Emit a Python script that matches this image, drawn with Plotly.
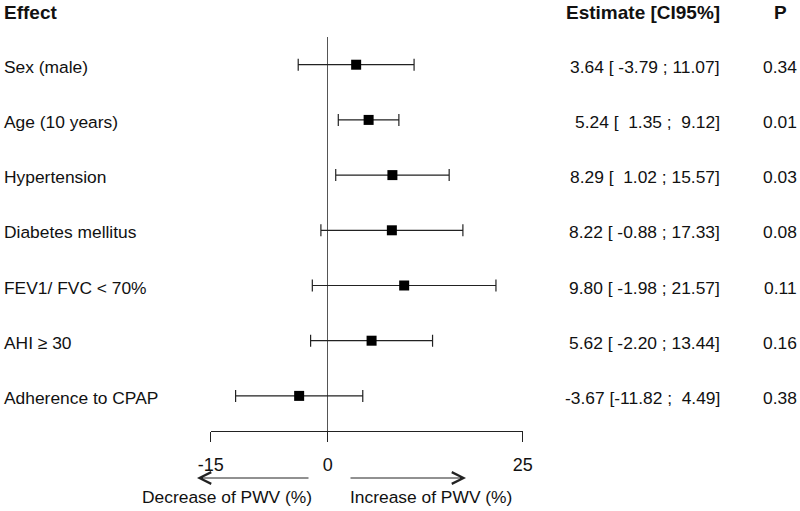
import plotly.graph_objects as go

# Forest plot data
effects = ["Sex (male)", "Age (10 years)", "Hypertension", "Diabetes mellitus",
           "FEV1/ FVC &lt; 70%", "AHI ≥ 30", "Adherence to CPAP"]
estimates = [3.64, 5.24, 8.29, 8.22, 9.80, 5.62, -3.67]
ci_low = [-3.79, 1.35, 1.02, -0.88, -1.98, -2.20, -11.82]
ci_high = [11.07, 9.12, 15.57, 17.33, 21.57, 13.44, 4.49]
p_values = ["0.34", "0.01", "0.03", "0.08", "0.11", "0.16", "0.38"]
tick_vals = [-15, 0, 25]

W, H = 800, 511
FONT = "Liberation Sans, Arial, sans-serif"
rows = list(range(len(effects)))


def px(x):
    return x / W


def py(y):
    return (H - y) / H


fig = go.Figure()

fig.add_trace(go.Scatter(
    x=estimates, y=rows, mode="markers",
    marker=dict(symbol="square", size=10, color="black"),
    error_x=dict(type="data", symmetric=False,
                 array=[h - e for h, e in zip(ci_high, estimates)],
                 arrayminus=[e - l for e, l in zip(estimates, ci_low)],
                 width=6, thickness=1.2, color="#222"),
    cliponaxis=False, hoverinfo="skip",
))

annotations = []
txt = dict(family=FONT, size=17.4, color="#111")
hdr = dict(family=FONT, size=19, color="#111", weight="bold")

# headers
annotations.append(dict(text="<b>Effect</b>", x=px(1.5), y=py(12), xref="paper", yref="paper",
                        xanchor="left", yanchor="middle", showarrow=False, font=hdr))
annotations.append(dict(text="<b>Estimate [CI95%]</b>", x=px(722), y=py(12), xref="paper", yref="paper",
                        xanchor="right", yanchor="middle", showarrow=False, font=hdr))
annotations.append(dict(text="<b>P</b>", x=px(780), y=py(12), xref="paper", yref="paper",
                        xanchor="center", yanchor="middle", showarrow=False, font=hdr))

for i, name in enumerate(effects):
    est_txt = f"{estimates[i]:.2f} [{ci_low[i]:6.2f} ; {ci_high[i]:5.2f}]".replace(" ", "\u00a0")
    annotations.append(dict(text=name, x=px(1.5), y=rows[i], xref="paper", yref="y",
                            xanchor="left", yanchor="middle", yshift=-2, showarrow=False, font=txt))
    annotations.append(dict(text=est_txt, x=px(722), y=rows[i], xref="paper", yref="y",
                            xanchor="right", yanchor="middle", yshift=-2, showarrow=False, font=txt))
    annotations.append(dict(text=p_values[i], x=px(780), y=rows[i], xref="paper", yref="y",
                            xanchor="center", yanchor="middle", yshift=-2, showarrow=False, font=txt))

# direction arrows
annotations.append(dict(x=px(197), y=py(478), xref="paper", yref="paper", ax=113, ay=0,
                        showarrow=True, arrowhead=5, arrowsize=2.3, arrowwidth=1.0,
                        arrowcolor="#222", text=""))
annotations.append(dict(x=px(466), y=py(478), xref="paper", yref="paper", ax=-117, ay=0,
                        showarrow=True, arrowhead=5, arrowsize=2.3, arrowwidth=1.0,
                        arrowcolor="#222", text=""))
annotations.append(dict(text="Decrease of PWV (%)", x=px(314), y=py(497), xref="paper", yref="paper",
                        xanchor="right", yanchor="middle", showarrow=False, font=txt))
annotations.append(dict(text="Increase of PWV (%)", x=px(348), y=py(497), xref="paper", yref="paper",
                        xanchor="left", yanchor="middle", showarrow=False, font=txt))

fig.update_layout(
    width=W, height=H,
    margin=dict(l=0, r=0, t=0, b=0, pad=0, autoexpand=False),
    paper_bgcolor="white", plot_bgcolor="white",
    showlegend=False,
    font=dict(family=FONT, color="#111"),
    annotations=annotations,
    xaxis=dict(domain=[px(210.8), px(522.7)], range=[-15, 25],
               tickvals=tick_vals, ticktext=[str(v) for v in tick_vals],
               showline=True, linecolor="#222", linewidth=1.3,
               ticks="outside", ticklen=10, tickwidth=1.3, tickcolor="#222",
               tickfont=dict(family=FONT, size=18, color="#111"),
               ticklabelstandoff=7, automargin=False,
               showgrid=False, zeroline=True, zerolinecolor="#555", zerolinewidth=1.3,
               fixedrange=True),
    yaxis=dict(domain=[py(431), py(37)], range=[6.636, -0.502], automargin=False,
               showline=False, showticklabels=False, showgrid=False, zeroline=False,
               ticks="", fixedrange=True),
)

fig.write_html("out.html", config={"displayModeBar": False},
               post_script="document.body.style.margin='0';document.body.style.overflow='hidden';")
